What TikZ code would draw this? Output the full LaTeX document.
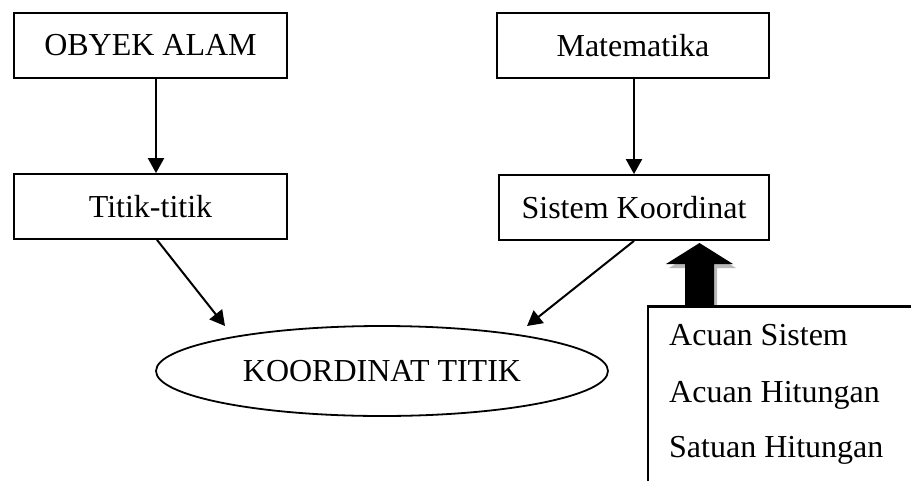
\documentclass[tikz,border=0pt]{standalone}
\usepackage{fontspec}
\setmainfont{Liberation Serif}
\usetikzlibrary{arrows.meta,shapes.geometric}

\tikzset{
  boxnode/.style={draw, line width=1.8pt, minimum height=65pt, inner sep=0pt},
  conn/.style={line width=2pt, -{Triangle[length=15pt,width=16pt]}},
  txt/.style={font=\fontsize{32}{38}\selectfont},
}

\begin{document}
\begin{tikzpicture}[x=1pt,y=-1pt]
  \useasboundingbox (0,0) rectangle (911,480);
  \clip (0,0) rectangle (911,480);

  % top row
  \node[boxnode, txt, minimum width=273pt] (obyek) at (150.5,45.5) {OBYEK ALAM};
  \node[boxnode, txt, minimum width=272pt] (mat) at (633,45.5) {Matematika};

  % second row
  \node[boxnode, txt, minimum width=273pt] (titik) at (150.5,206.5) {Titik-titik};
  \node[boxnode, txt, minimum width=270pt] (sis) at (634,207.5) {Sistem Koordinat};

  % result
  \node[draw, ellipse, line width=1.8pt, txt, minimum width=452pt, minimum height=90pt, inner sep=0pt]
    (koord) at (382,371) {KOORDINAT TITIK};

  % reference box (runs off the page on the right and bottom)
  \node[draw, line width=1.8pt, anchor=north west, minimum width=300pt, minimum height=220pt, inner sep=0pt]
    (ref) at (647,306) {};
  \node[txt, anchor=base west, inner sep=0pt] (acs) at (669,345) {Acuan Sistem};
  \node[txt, anchor=base west, inner sep=0pt] (ach) at (669,402) {Acuan Hitungan};
  \node[txt, anchor=base west, inner sep=0pt] (sth) at (669,457) {Satuan Hitungan};

  % arrow tips near the ellipse
  \coordinate (tipA) at (225,326);
  \coordinate (tipB) at (527,326);

  % connectors
  \draw[conn] ([xshift=5.5pt]obyek.south) -- ([xshift=5.5pt]titik.north);
  \draw[conn] ([xshift=1pt]mat.south) -- (sis.north);
  \draw[conn] ([xshift=6.5pt]titik.south) -- (tipA);
  \draw[conn] (sis.south) -- (tipB);

  % block arrow from the reference box up to the coordinate system
  \coordinate (ba) at (699.5,306);
  \begin{scope}[shift={(ba)}]
    \fill[gray!55] (-14.5+3,0) -- (-14.5+3,-42+4) -- (-33.5+3,-42+4) -- (0+3,-63+4)
      -- (33.5+3,-42+4) -- (14.5+3,-42+4) -- (14.5+3,0) -- cycle;
    \fill[black] (-14.5,0) -- (-14.5,-42) -- (-33.5,-42) -- (0,-63)
      -- (33.5,-42) -- (14.5,-42) -- (14.5,0) -- cycle;
  \end{scope}
  \draw[line width=1.8pt] (ref.north west) -- (ref.north east);
\end{tikzpicture}
\end{document}
